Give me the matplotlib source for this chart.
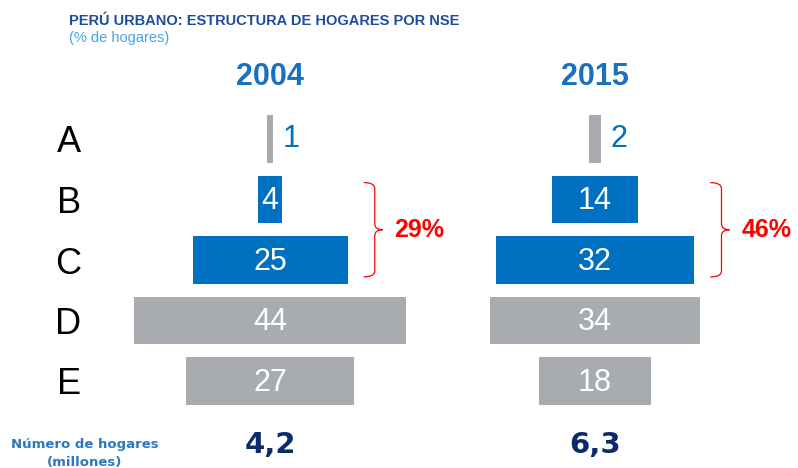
import matplotlib.pyplot as plt
from matplotlib.path import Path
from matplotlib.patches import PathPatch
import numpy as np

plt.rcParams['font.family'] = ['Liberation Sans', 'DejaVu Sans']

# datos
nse = ["A", "B", "C", "D", "E"]
anios = ["2004", "2015"]
hogares_2004 = [1, 4, 25, 44, 27]
hogares_2015 = [2, 14, 32, 34, 18]
num_hogares = [4.2, 6.3]  # millones

azul = "#0070C0"
gris = "#A8ACB0"
rojo = "#FF0000"
colores = [gris, azul, azul, gris, gris]

W, H = 798, 468
fig = plt.figure(figsize=(W / 100, H / 100), dpi=100)

# ejes en pixeles -> fraccion de figura
px = 6.2          # pixeles por punto porcentual
ax_w = 300
row = 60.5
top_y = 139 - row / 2
centros = [270, 595]


def brace(ax, x0, y0, y1):
    w1, w2, r = 1.8, 1.3, 0.1
    ym = (y0 + y1) / 2
    verts = [(x0, y0), (x0 + w1, y0), (x0 + w1, y0 + r),
             (x0 + w1, ym - r),
             (x0 + w1, ym), (x0 + w1 + w2, ym),
             (x0 + w1, ym), (x0 + w1, ym + r),
             (x0 + w1, y1 - r),
             (x0 + w1, y1), (x0, y1)]
    codes = [Path.MOVETO, Path.CURVE3, Path.CURVE3,
             Path.LINETO,
             Path.CURVE3, Path.CURVE3,
             Path.CURVE3, Path.CURVE3,
             Path.LINETO,
             Path.CURVE3, Path.CURVE3]
    ax.add_patch(PathPatch(Path(verts, codes), fill=False, edgecolor=rojo, lw=0.9))
    return x0 + w1 + w2


axes = []
for i, (anio, vals) in enumerate(zip(anios, [hogares_2004, hogares_2015])):
    cx = centros[i]
    rect = [(cx - ax_w / 2) / W, 1 - (top_y + 5 * row) / H, ax_w / W, 5 * row / H]
    ax = fig.add_axes(rect)
    axes.append(ax)
    v = np.array(vals, dtype=float)
    y = np.arange(len(nse))
    ax.barh(y, v, left=-v / 2, height=0.78, color=colores)
    half = ax_w / 2 / px
    ax.set_xlim(-half, half)
    ax.set_ylim(4.5, -0.5)

    for j in range(len(nse)):
        if j == 0:
            ax.annotate(str(vals[j]), (v[j] / 2, j), xytext=(7, 0), textcoords="offset points",
                        ha="left", va="center", fontsize=22, color=azul)
        else:
            ax.text(0, j + 0.03, str(vals[j]), ha="center", va="center", fontsize=22, color="white")

    # llave B + C
    x_end = brace(ax, max(v[1], v[2]) / 2 + 2.6, 1 - 0.28, 2 + 0.28)
    ax.text(x_end + 1.9, 1.5, f"{vals[1] + vals[2]}%", ha="left", va="center",
            fontsize=18, fontweight="bold", color=rojo, clip_on=False)

    ax.set_title(anio, fontsize=22, fontweight="bold", color="#1B6FBF", pad=17)
    for s in ax.spines.values():
        s.set_visible(False)
    ax.set_xticks([])
    if i == 0:
        ax.set_yticks(y)
        ax.set_yticklabels(nse)
        ax.tick_params(axis="y", length=0, pad=28, labelsize=26)
    else:
        ax.set_yticks([])

    fig.text(cx / W, 1 - 453 / H, f"{num_hogares[i]:.1f}".replace(".", ","), ha="center",
             va="baseline", fontsize=21, fontweight="bold", color="#0D2B6B",
             family="DejaVu Sans")

fig.text(69 / W, 1 - 25 / H, "PERÚ URBANO: ESTRUCTURA DE HOGARES POR NSE", ha="left",
         va="baseline", fontsize=10.5, fontweight="bold", color="#1F4B9C")
fig.text(69 / W, 1 - 42 / H, "(% de hogares)", ha="left", va="baseline", fontsize=10.5,
         color="#3DA5EE")
fig.text(85 / W, 1 - 448 / H, "Número de hogares", ha="center", va="baseline", fontsize=9.5,
         fontweight="bold", color="#2B77C0", family="DejaVu Sans")
fig.text(85 / W, 1 - 466 / H, "(millones)", ha="center", va="baseline", fontsize=9.5,
         fontweight="bold", color="#2B77C0", family="DejaVu Sans")

fig.savefig("out.png", dpi=100)
